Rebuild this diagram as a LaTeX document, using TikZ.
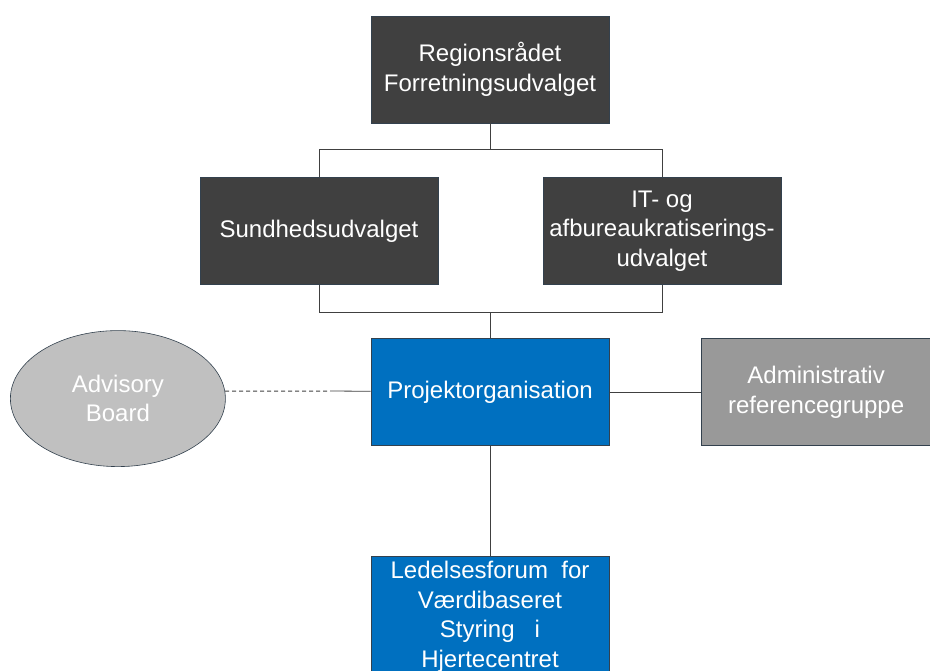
\documentclass[tikz,border=0pt]{standalone}
\usepackage{fontspec}
\setmainfont{Liberation Sans}
\usepackage{xcolor}
\usetikzlibrary{positioning,shapes.geometric}

\definecolor{boardgrey}{HTML}{404040}
\definecolor{projblue}{HTML}{0070C0}
\definecolor{refgrey}{HTML}{999999}
\definecolor{advgrey}{HTML}{C0C0C0}
\definecolor{edgeslate}{HTML}{33414E}

\begin{document}
\begin{tikzpicture}[
    x=1pt, y=-1pt,
    font=\fontsize{24}{29.5}\selectfont,
    box/.style={
        rectangle,
        draw=edgeslate,
        line width=0.6pt,
        text=white,
        align=center,
        inner sep=2pt,
        minimum width=238pt,
        minimum height=107pt
    },
    darkbox/.style={box, fill=boardgrey},
    bluebox/.style={box, fill=projblue},
    refbox/.style={box, fill=refgrey, minimum width=229pt},
    oval/.style={
        ellipse,
        draw=edgeslate,
        line width=0.6pt,
        fill=advgrey,
        text=white,
        align=center,
        inner sep=0pt,
        minimum width=215pt,
        minimum height=136pt
    },
    link/.style={
        draw=boardgrey,
        line width=0.8pt
    }
]
\useasboundingbox (0,0) rectangle (930,671);

% Top
\node[darkbox] (region) at (490,69.5) {Regionsrådet\\Forretningsudvalget};

% Committees
\node[darkbox, below=54pt of region, xshift=-171pt] (sundhed) {Sundhedsudvalget};
\node[darkbox, below=54pt of region, xshift=172pt] (itudvalg) {IT- og\\afbureaukratiserings-\\udvalget};

% Middle row
\node[bluebox, below=215pt of region] (projekt) {Projektorganisation};
\node[oval, left=145pt of projekt, yshift=-6.5pt] (advisory) {Advisory\\Board};
\node[refbox, right=92pt of projekt] (adminref) {Administrativ\\referencegruppe};

% Bottom
\node[bluebox, below=110pt of projekt, inner ysep=5pt] (ledelse) {Ledelsesforum\ \ for\\Værdibaseret\\Styring\ \ \ i\\Hjertecentret};

% Connectors
\draw[link] (region.south) -- ++(0,26) -| (sundhed.north);
\draw[link] (region.south) -- ++(0,26) -| (itudvalg.north);
\draw[link] (sundhed.south) -- ++(0,28) -| (itudvalg.south);
\draw[link] (projekt.north) -- ++(0,-26);
\coordinate (dashend) at (330,391);
\draw[link, line width=1pt, dash pattern=on 4pt off 3pt] (advisory.4) -- (dashend);
\draw[link] (dashend) -- (projekt);
\draw[link] (projekt) -- (adminref);
\draw[link] (projekt) -- (ledelse);

\end{tikzpicture}
\end{document}
